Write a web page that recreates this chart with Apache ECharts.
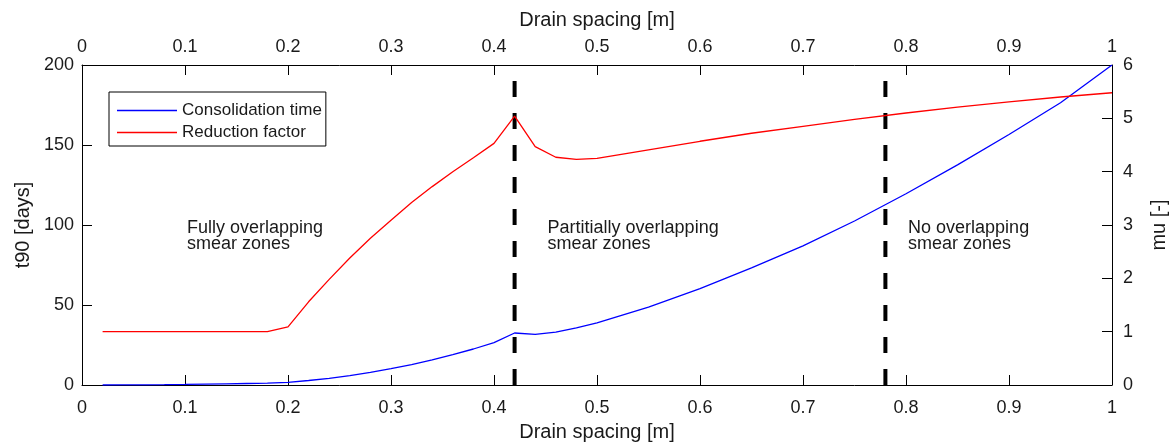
<!DOCTYPE html>
<html>
<head>
<meta charset="utf-8">
<script src="https://cdn.jsdelivr.net/npm/echarts@6/dist/echarts.min.js"></script>
<style>
html,body{margin:0;padding:0;background:#fff;}
#chart{width:1173px;height:447px;}
</style>
</head>
<body>
<div id="chart"></div>
<script>
// ---- data ----
const spacing = [0.02,0.04,0.06,0.08,0.10,0.12,0.14,0.16,0.18,0.20,0.22,0.24,0.26,0.28,0.30,0.32,0.34,0.36,0.38,0.40,0.42,0.44,0.46,0.48,0.50,0.55,0.60,0.65,0.70,0.75,0.80,0.85,0.90,0.95,1.00];
const consolidationTime = [0.015,0.06,0.13,0.23,0.37,0.53,0.72,0.94,1.19,1.7,2.8,4.2,5.9,7.9,10.2,12.8,15.7,19.0,22.5,26.5,32.5,31.7,33.1,35.7,38.9,48.7,60.2,73.2,87.0,102.5,119.5,137.6,156.6,176.4,200];
const reductionFactor = [1,1,1,1,1,1,1,1,1,1.09,1.56,1.98,2.38,2.75,3.09,3.42,3.72,4.0,4.26,4.53,5.04,4.47,4.27,4.23,4.25,4.41,4.57,4.72,4.85,4.98,5.10,5.21,5.31,5.40,5.48];
const zoneBoundaries = [0.42, 0.78];
const boundaryTop = 190;
const zoneLabels = ["Fully overlapping\nsmear zones", "Partitially overlapping\nsmear zones", "No overlapping\nsmear zones"];
const zoneLabelX = [0.102, 0.452, 0.802];
const zoneLabelY = 104;
const seriesNames = ["Consolidation time", "Reduction factor"];
const xName = "Drain spacing [m]";
const yLeftName = "t90 [days]";
const yRightName = "mu [-]";

const FONT = "'Liberation Sans', Arial, sans-serif";
const TXT = "#1a1a1a";

const chart = echarts.init(document.getElementById('chart'), null, {renderer: 'canvas'});

function pair(xs, ys){ return xs.map((x,i)=>[x, ys[i]]); }

const axisCommon = {
  type: 'value', min: 0, max: 1, interval: 0.1,
  axisLine: {show: true, onZero: false, lineStyle: {color: '#000', width: 1}},
  axisTick: {show: true, inside: true, length: 10, lineStyle: {color: '#000'}},
  splitLine: {show: false},
  axisLabel: {fontSize: 18, color: TXT, fontFamily: FONT},
  nameLocation: 'middle',
  nameTextStyle: {fontSize: 20, color: TXT, fontFamily: FONT}
};

const boundarySeries = zoneBoundaries.map(b => ({
  type: 'line', xAxisIndex: 0, yAxisIndex: 0, symbol: 'none', silent: true,
  data: [[b, 0], [b, boundaryTop]],
  lineStyle: {color: '#000', width: 4, type: [16, 16]},
  z: 1
}));

const option = {
  animation: false,
  backgroundColor: '#fff',
  grid: {left: 82, right: 61, top: 65, bottom: 62, containLabel: false, outerBoundsMode: 'none'},
  legend: {
    orient: 'vertical', left: 109, top: 92,
    data: seriesNames.map(n => ({name: n, icon: 'rect'})),
    itemWidth: 60, itemHeight: 1.5, itemGap: 5,
    padding: [10, 4, 5, 8],
    borderColor: '#000', borderWidth: 1, backgroundColor: '#fff',
    textStyle: {fontSize: 17, color: TXT, fontFamily: FONT}
  },
  xAxis: [
    Object.assign({}, axisCommon, {position: 'bottom', name: xName, nameGap: 37,
      axisLabel: Object.assign({}, axisCommon.axisLabel, {margin: 14})}),
    Object.assign({}, axisCommon, {position: 'top', name: xName, nameGap: 35,
      axisLabel: Object.assign({}, axisCommon.axisLabel, {margin: 9})})
  ],
  yAxis: [
    {type: 'value', min: 0, max: 200, interval: 50, position: 'left',
     axisLine: {show: true, onZero: false, lineStyle: {color: '#000'}},
     axisTick: {show: true, inside: true, length: 10, lineStyle: {color: '#000'}},
     splitLine: {show: false},
     axisLabel: {fontSize: 18, color: TXT, fontFamily: FONT, margin: 8},
     name: yLeftName, nameLocation: 'middle', nameGap: 49,
     nameTextStyle: {fontSize: 20, color: TXT, fontFamily: FONT}},
    {type: 'value', min: 0, max: 6, interval: 1, position: 'right',
     axisLine: {show: true, onZero: false, lineStyle: {color: '#000'}},
     axisTick: {show: true, inside: true, length: 10, lineStyle: {color: '#000'}},
     splitLine: {show: false},
     axisLabel: {fontSize: 18, color: TXT, fontFamily: FONT, margin: 11},
     name: yRightName, nameLocation: 'middle', nameGap: 37,
     nameTextStyle: {fontSize: 20, color: TXT, fontFamily: FONT}}
  ],
  series: [
    {name: seriesNames[0], type: 'line', xAxisIndex: 0, yAxisIndex: 0, symbol: 'none',
     data: pair(spacing, consolidationTime),
     lineStyle: {color: '#0000ff', width: 1.3}, itemStyle: {color: '#0000ff'}, z: 3},
    {name: seriesNames[1], type: 'line', xAxisIndex: 0, yAxisIndex: 1, symbol: 'none',
     data: pair(spacing, reductionFactor),
     lineStyle: {color: '#ff0000', width: 1.3}, itemStyle: {color: '#ff0000'}, z: 3}
  ].concat(boundarySeries)
};

chart.setOption(option);

const graphics = zoneLabels.map((t, i) => {
  const p = chart.convertToPixel({xAxisIndex: 0, yAxisIndex: 0}, [zoneLabelX[i], zoneLabelY]);
  return {
    type: 'text', left: p[0], top: p[1],
    style: {text: t, fontSize: 18, lineHeight: 16, fill: TXT, fontFamily: FONT}
  };
});
chart.setOption({graphic: graphics});
</script>
</body>
</html>
